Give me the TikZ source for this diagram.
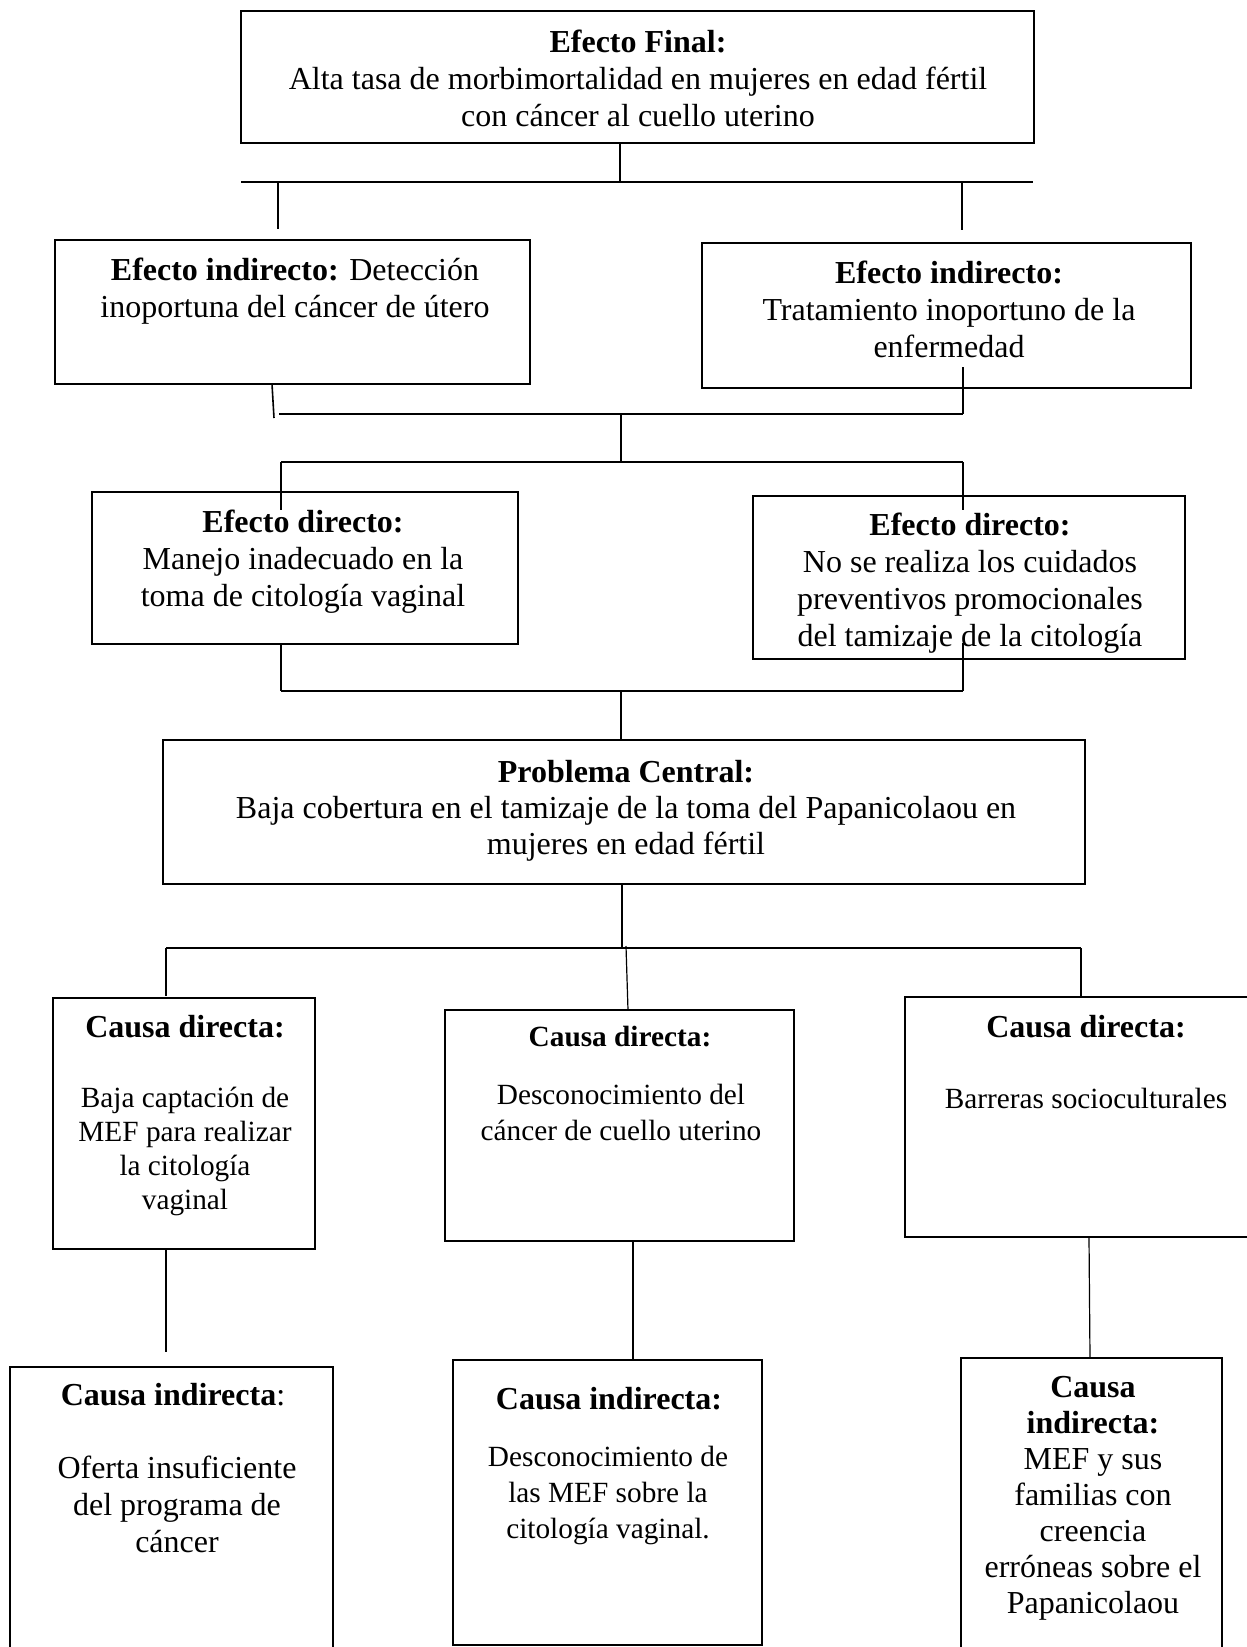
\documentclass[tikz,border=0pt]{standalone}
\usepackage{fontspec}
\setmainfont{Liberation Serif}
\newcommand{\bigf}{\fontsize{32}{37}\selectfont}
\newcommand{\midf}{\fontsize{29.3}{36}\selectfont}
\newcommand{\smf}{\fontsize{29.3}{34}\selectfont}
\begin{document}
\begin{tikzpicture}[x=1pt,y=-1pt,
  box/.style={draw, line width=2.4pt, rectangle, inner sep=0pt},
  conn/.style={line width=1.6pt},
  bar/.style={line width=2.2pt},
  thin/.style={line width=1.2pt},
  txt/.style={anchor=base, inner sep=0pt, align=center, font=\bigf},
  stxt/.style={anchor=base, inner sep=0pt, align=center, font=\smf},
  mtxt/.style={anchor=base, inner sep=0pt, align=center, font=\midf}]
\useasboundingbox (0,0) rectangle (1247,1647);
\clip (0,0) rectangle (1247,1647);
% boxes
\node[box, minimum width=793, minimum height=132] (fe) at (637.5,77) {};
\node[box, minimum width=475, minimum height=144] (ei1) at (292.5,312) {};
\node[box, minimum width=489, minimum height=145] (ei2) at (946.5,315.5) {};
\node[box, minimum width=426, minimum height=152] (ed1) at (305,568) {};
\node[box, minimum width=432, minimum height=163] (ed2) at (969,577.5) {};
\node[box, minimum width=922, minimum height=144] (pc) at (624,812) {};
\node[box, minimum width=262, minimum height=251] (cd1) at (184,1123.5) {};
\node[box, minimum width=349, minimum height=231] (cd2) at (619.5,1125.5) {};
\node[box, minimum width=360, minimum height=240] (cd3) at (1085,1117) {};
\node[box, minimum width=323, minimum height=303] (ci1) at (171.5,1518.5) {};
\node[box, minimum width=309, minimum height=285] (ci2) at (607.5,1502.5) {};
\node[box, minimum width=261, minimum height=312] (ci3) at (1091.5,1514) {};
% texts (anchor=base is the baseline of the last line)
\node[txt] (tfe) at (638,126) {\textbf{Efecto Final:}\\Alta tasa de morbimortalidad en mujeres en edad fértil\\con cáncer al cuello uterino};
\node[txt] (tei1) at (295,317) {\textbf{Efecto indirecto:} Detección\\inoportuna del cáncer de útero};
\node[txt] (tei2) at (949,357) {\textbf{Efecto indirecto:}\\Tratamiento inoportuno de la\\enfermedad};
\node[txt] (ted1) at (303,606) {\textbf{Efecto directo:}\\Manejo inadecuado en la\\toma de citología vaginal};
\node[txt] (ted2) at (970,646) {\textbf{Efecto directo:}\\No se realiza los cuidados\\preventivos promocionales\\del tamizaje de la citología};
\node[txt, font=\fontsize{32}{36}\selectfont] (tpc) at (626,854) {\textbf{Problema Central:}\\Baja cobertura en el tamizaje de la toma del Papanicolaou en\\mujeres en edad fértil};
\node[txt] (tcd1h) at (185,1037) {\textbf{Causa directa:}};
\node[stxt] (tcd1) at (185,1209) {Baja captación de\\MEF para realizar\\la citología\\vaginal};
\node[stxt] (tcd2h) at (620,1046) {\textbf{Causa directa:}};
\node[mtxt] (tcd2) at (621,1140) {Desconocimiento del\\cáncer de cuello uterino};
\node[txt] (tcd3h) at (1086,1037) {\textbf{Causa directa:}};
\node[stxt] (tcd3) at (1086,1108) {Barreras socioculturales};
\node[txt] (tci1h) at (173,1405) {\textbf{Causa indirecta}:};
\node[txt] (tci1) at (177,1552) {Oferta insuficiente\\del programa de\\cáncer};
\node[txt] (tci2h) at (609,1409) {\textbf{Causa indirecta:}};
\node[mtxt] (tci2) at (608,1538) {Desconocimiento de\\las MEF sobre la\\citología vaginal.};
\node[txt, font=\fontsize{32}{36}\selectfont] (tci3) at (1093,1613) {\textbf{Causa}\\\textbf{indirecta:}\\MEF y sus\\familias con\\creencia\\erróneas sobre el\\Papanicolaou};
% connector points
\coordinate (a1) at (620,182);
\coordinate (b1l) at (241,182);
\coordinate (b1r) at (1033,182);
\coordinate (a2) at (278,229);
\coordinate (a3) at (962,230);
\coordinate (c1t) at (272,384);
\coordinate (c1b) at (274,418);
\coordinate (c2l) at (279,414);
\coordinate (c2r) at (963,414);
\coordinate (c2t) at (963,367);
\coordinate (c3) at (621,414);
\coordinate (d1l) at (281,462);
\coordinate (d1r) at (963,462);
\coordinate (d1c) at (621,462);
\coordinate (d2l) at (281,510);
\coordinate (d2r) at (963,510);
\coordinate (e1l) at (281,691);
\coordinate (e1r) at (963,691);
\coordinate (e1c) at (621,691);
\coordinate (e2r) at (963,643);
\coordinate (f1) at (622,947);
\coordinate (g1l) at (166,948);
\coordinate (g1r) at (1081,948);
\coordinate (g2l) at (166,996);
\coordinate (g2r) at (1081,996);
\coordinate (g3t) at (626,946);
\coordinate (g3b) at (628,1010);
\coordinate (h1) at (166,1352);
\coordinate (h2) at (633,1359);
\coordinate (h3t) at (1089,1237);
\coordinate (h3b) at (1090,1358);
% connectors
\draw[conn] (fe.south -| a1) -- (a1);
\draw[bar] (b1l) -- (b1r);
\draw[conn] (a2 |- b1l) -- (a2);
\draw[conn] (a3 |- b1l) -- (a3);
\draw[conn] (c1t) -- (c1b);
\draw[bar] (c2l) -- (c2r);
\draw[conn] (c2t) -- (c2r);
\draw[conn] (c3) -- (d1c);
\draw[bar] (d1l) -- (d1r);
\draw[conn] (d1l) -- (d2l);
\draw[conn] (d1r) -- (d2r);
\draw[conn] (ed1.south -| e1l) -- (e1l);
\draw[bar] (e1l) -- (e1r);
\draw[conn] (e2r) -- (e1r);
\draw[conn] (e1c) -- (pc.north -| e1c);
\draw[conn] (pc.south -| f1) -- (f1);
\draw[bar] (g1l) -- (g1r);
\draw[conn] (g1l) -- (g2l);
\draw[conn] (g1r) -- (g2r);
\draw[thin] (g3t) -- (g3b);
\draw[conn] (cd1.south -| h1) -- (h1);
\draw[thin] (cd2.south -| h2) -- (h2);
\draw[thin] (h3t) -- (h3b);
\end{tikzpicture}
\end{document}
